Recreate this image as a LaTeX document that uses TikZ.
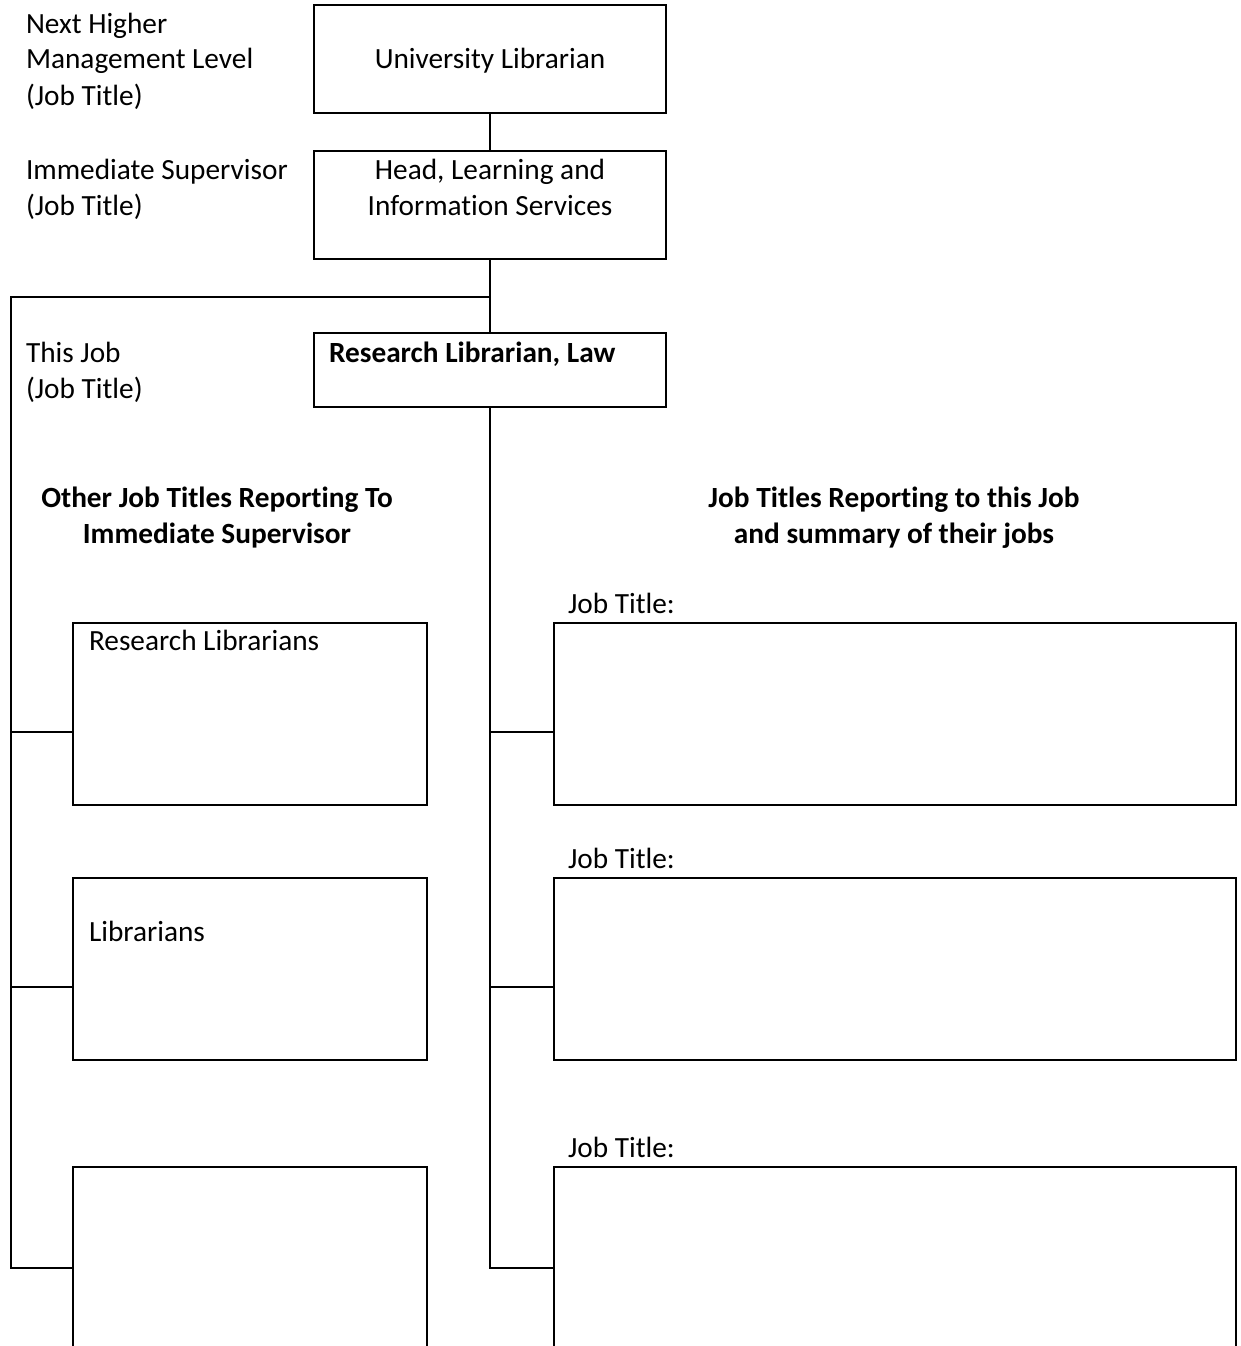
\documentclass[tikz,border=0pt]{standalone}
\usepackage{fontspec}
\setmainfont{Carlito}[Ligatures=NoCommon]
\begin{document}
\begin{tikzpicture}[x=1pt,y=-1pt,
  every node/.style={font=\fontsize{29.3}{36}\selectfont, inner sep=0pt, outer sep=0pt},
  box/.style={draw, line width=2.6pt, anchor=north west, minimum width=#1},
  txt/.style={anchor=base west, align=left},
  head/.style={anchor=base, align=center, font=\fontsize{29.3}{36}\selectfont\bfseries},
  conn/.style={line width=2.6pt, line cap=rect}]
\useasboundingbox (0,0) rectangle (1240,1346);
\clip (0,0) rectangle (1240,1346);

% top chain
\node[box=352pt, minimum height=108pt] (ul) at (314,5) {};
\node[box=352pt, minimum height=108pt] (hd) at (314,151) {};
\node[box=352pt, minimum height=74pt] (rl) at (314,333) {};

% left boxes
\node[box=354pt, minimum height=182pt] (l1) at (73,623) {};
\node[box=354pt, minimum height=182pt] (l2) at (73,878) {};
\node[box=354pt, minimum height=260pt] (l3) at (73,1167) {};

% right boxes
\node[box=682pt, minimum height=182pt] (r1) at (554,623) {};
\node[box=682pt, minimum height=182pt] (r2) at (554,878) {};
\node[box=682pt, minimum height=260pt] (r3) at (554,1167) {};

% junction coordinates
\coordinate (lt) at (11,297);
\coordinate (lb) at (11,1268);
\coordinate (j1) at (0,732);
\coordinate (j2) at (0,987);
\coordinate (j3) at (0,1268);
\coordinate (mid) at (490,297);

% connectors
\draw[conn] (ul.south) -- (hd.north);
\draw[conn] (hd.south) -- (rl.north);
\draw[conn] (mid) -- (lt) -- (lb) -- (l3.west |- j3);
\draw[conn] (lt |- j1) -- (l1.west |- j1);
\draw[conn] (lt |- j2) -- (l2.west |- j2);
\draw[conn] (rl.south) -- (rl.south |- j3) -- (r3.west |- j3);
\draw[conn] (rl.south |- j1) -- (r1.west |- j1);
\draw[conn] (rl.south |- j2) -- (r2.west |- j2);

% side labels (base = last line)
\node[txt] (t1) at (26,105) {Next Higher\\Management Level\\(Job Title)};
\node[txt] (t2) at (26,215) {Immediate Supervisor\\(Job Title)};
\node[txt] (t3) at (26,398) {This Job\\(Job Title)};

% box texts
\node[anchor=base] (tul) at (490,68) {University Librarian};
\node[anchor=base, align=center] (thd) at (490,215) {Head, Learning and\\Information Services};
\node[txt, font=\fontsize{29.3}{36}\selectfont\bfseries] (trl) at (329,362) {Research Librarian, Law};

% headings
\node[head] (hl) at (217,543) {Other Job Titles Reporting To\\Immediate Supervisor};
\node[head] (hr) at (894,543) {Job Titles Reporting to this Job\\and summary of their jobs};

% left box texts
\node[txt] (tl1) at (89,650) {Research Librarians};
\node[txt] (tl2) at (89,941) {Librarians};

% right labels
\node[txt] (jt1) at (568,613) {Job Title:};
\node[txt] (jt2) at (568,868) {Job Title:};
\node[txt] (jt3) at (568,1157) {Job Title:};
\end{tikzpicture}
\end{document}
